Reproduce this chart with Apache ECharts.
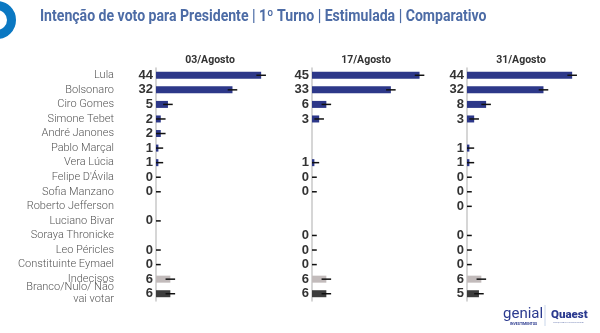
<!DOCTYPE html>
<html>
<head>
<meta charset="utf-8">
<script src="https://cdn.jsdelivr.net/npm/echarts@6/dist/echarts.min.js"></script>
<style>
  html, body { margin: 0; padding: 0; background: #fff; }
  #chart { width: 600px; height: 333px; }
</style>
</head>
<body>
<div id="chart"></div>
<script>
// Candidates and answer options, top to bottom
const categorias = [
  'Lula', 'Bolsonaro', 'Ciro Gomes', 'Simone Tebet', 'André Janones',
  'Pablo Marçal', 'Vera Lúcia', "Felipe D'Ávila", 'Sofia Manzano',
  'Roberto Jefferson', 'Luciano Bivar', 'Soraya Thronicke', 'Leo Péricles',
  'Constituinte Eymael', 'Indecisos', 'Branco/Nulo/ Não\nvai votar'
];

// Survey dates (one panel each)
const rodadas = ['03/Agosto', '17/Agosto', '31/Agosto'];

// Vote intention (%) per date; null = not asked in that round
const agosto03 = [44, 32, 5, 2, 2, 1, 1, 0, 0, null, 0, null, 0, 0, 6, 6];
const agosto17 = [45, 33, 6, 3, null, null, 1, 0, 0, null, null, 0, 0, 0, 6, 6];
const agosto31 = [44, 32, 8, 3, null, 1, 1, 0, 0, 0, null, 0, 0, 0, 6, 5];

// Margin of error, percentage points
const margemErro = 2;

const seriesValores = [agosto03, agosto17, agosto31];

const corCandidato = '#2d3889';
const corIndecisos = '#c2bbbb';
const corBranco = '#3d3d3d';

function corDaLinha(i) {
  if (i === 14) return corIndecisos;
  if (i === 15) return corBranco;
  return corCandidato;
}

const chart = echarts.init(document.getElementById('chart'));

const painelLeft = [156, 312, 467];
const gridTop = 68;
const gridHeight = 233;
const gridWidth = 119.5;
const eixoMax = 50;

const grids = [], xAxes = [], yAxes = [], series = [], titles = [];

seriesValores.forEach((valores, p) => {
  grids.push({ left: painelLeft[p], top: gridTop, width: gridWidth, height: gridHeight, containLabel: false });
  xAxes.push({
    type: 'value', gridIndex: p, min: 0, max: eixoMax, show: false
  });
  yAxes.push({
    type: 'category', gridIndex: p, data: categorias, inverse: true,
    axisLine: { show: true, lineStyle: { color: '#c8c8c8', width: 1.5 } },
    axisTick: { show: false },
    axisLabel: p === 0 ? {
      show: true, interval: 0, margin: 42, align: 'right',
      fontFamily: 'Roboto', fontWeight: 300, fontSize: 11, color: '#555',
      lineHeight: 12
    } : { show: false }
  });
  titles.push({
    text: rodadas[p],
    left: painelLeft[p] + 49, top: 50, textAlign: 'center',
    textStyle: { fontFamily: 'Roboto', fontWeight: 'bold', fontSize: 10.5, color: '#333' }
  });

  series.push({
    type: 'bar', xAxisIndex: p, yAxisIndex: p,
    barWidth: 7,
    data: valores.map((v, i) => v === null ? '-' : {
      value: v, itemStyle: { color: corDaLinha(i) }
    }),
    label: {
      show: true, position: 'left', distance: 3,
      fontFamily: 'Liberation Sans', fontWeight: 'bold', fontSize: 13, color: '#333',
      formatter: (d) => d.value
    },
    silent: true, animation: false
  });

  // Error bars: value ± margin, clipped at zero
  series.push({
    type: 'custom', xAxisIndex: p, yAxisIndex: p,
    data: valores.map((v, i) => v === null ? null :
      [Math.max(0, v - margemErro), v + margemErro, i]).filter(d => d !== null),
    renderItem: (params, api) => {
      const a = api.coord([api.value(0), api.value(2)]);
      const b = api.coord([api.value(1), api.value(2)]);
      return {
        type: 'line',
        shape: { x1: a[0], y1: a[1], x2: b[0], y2: b[1] },
        style: { stroke: '#111', lineWidth: 1.5 }
      };
    },
    encode: { x: [0, 1], y: 2 },
    z: 5, silent: true, animation: false
  });
});

chart.setOption({
  animation: false,
  title: titles,
  grid: grids,
  xAxis: xAxes,
  yAxis: yAxes,
  series: series,
  graphic: [
    // page heading, slightly condensed
    { type: 'text', x: 40, y: 17, scaleX: 0.88, scaleY: 1,
      style: {
        text: 'Intenção de voto para Presidente | 1º Turno | Estimulada | Comparativo',
        fontFamily: 'Roboto', fontWeight: 'bold', fontSize: 16, fill: '#4d6ca6',
        verticalAlign: 'middle'
      } },
    // blue ring at top left
    { type: 'circle', shape: { cx: -3, cy: 20, r: 14.5 },
      style: { fill: 'none', stroke: '#0b78c2', lineWidth: 9 } },
    // footer brands
    { type: 'text', x: 503, y: 307,
      style: { text: 'genial', fontFamily: 'Roboto', fontSize: 15, fontWeight: 400, fill: '#2b3a8f' } },
    { type: 'text', x: 510, y: 322,
      style: { text: 'INVESTIMENTOS', fontFamily: 'Roboto', fontSize: 3.5, fontWeight: 700, fill: '#2b3a8f' } },
    { type: 'line', shape: { x1: 545, y1: 305, x2: 545, y2: 326 },
      style: { stroke: '#c9d6ea', lineWidth: 1 } },
    { type: 'text', x: 551, y: 309,
      style: { text: 'Quaest', fontFamily: 'Roboto', fontSize: 11.5, fontWeight: 900, fill: '#2b3a8f' } },
    { type: 'text', x: 553, y: 321,
      style: { text: 'PESQUISA E CONSULTORIA', fontFamily: 'Roboto', fontSize: 2.5, fill: '#7a88b8' } }
  ]
});
</script>
</body>
</html>
